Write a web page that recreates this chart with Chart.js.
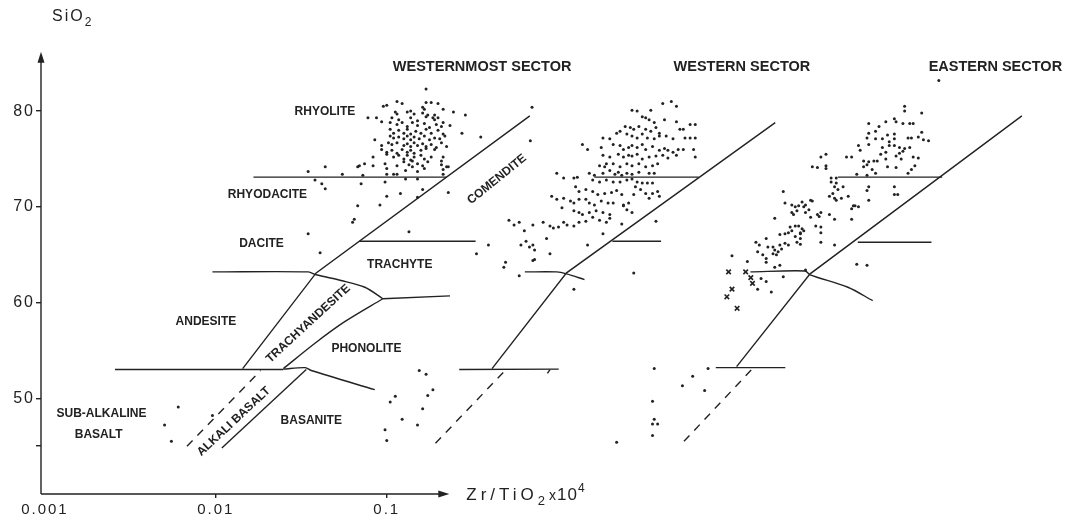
<!DOCTYPE html>
<html>
<head>
<meta charset="utf-8">
<script src="https://cdn.jsdelivr.net/npm/chart.js@4.4.1/dist/chart.umd.min.js"></script>
<style>
html, body { margin: 0; padding: 0; background: #fff; }
canvas { display: block; }
</style>
</head>
<body>
<canvas id="c" width="1076" height="523"></canvas>
<script>
// x values are log10(Zr/TiO2), each sector in its own (unshifted) coordinates
const sectorShift = [0, 1.465, 2.89];   // decades each sector is slid to the right
const xTicks = [-3, -2, -1];
const xTickLabels = ['0.001', '0.01', '0.1'];
const yTicks = [45, 50, 60, 70, 80];

// ---- westernmost sector
const westernmostPts = [
  [-0.77,82.3],
  [-0.94,81.0],[-0.91,80.8],[-0.77,80.9],[-0.74,80.9],[-0.70,80.8],
  [-1.02,80.5],[-1.00,80.6],[-0.79,80.4],[-0.78,80.2],[-0.67,80.2],
  [-0.95,79.9],[-0.94,79.7],[-0.88,79.9],[-0.86,80.0],[-0.84,79.7],[-0.79,79.8],[-0.76,79.6],[-0.72,79.6],[-0.61,79.9],
  [-1.11,79.3],[-1.06,79.3],[-0.97,79.3],[-0.93,79.1],[-0.86,79.3],[-0.82,79.0],[-0.77,79.4],[-0.73,79.3],[-0.72,79.1],[-0.70,79.3],[-0.54,79.6],
  [-1.03,78.9],[-0.98,78.8],[-0.94,78.6],[-0.91,78.8],[-0.88,78.4],[-0.85,78.8],[-0.82,78.5],[-0.78,78.7],[-0.75,78.3],[-0.71,78.6],[-0.68,78.4],[-0.67,78.8],[-0.63,78.5],
  [-0.98,78.1],[-0.96,77.7],[-0.93,78.0],[-0.90,77.7],[-0.88,78.1],[-0.86,77.6],[-0.83,77.9],[-0.80,77.7],[-0.77,78.1],[-0.74,77.7],[-0.70,78.0],[-0.67,77.6],[-0.56,77.7],
  [-1.07,77.0],[-0.98,77.4],[-0.96,77.2],[-0.93,77.3],[-0.90,77.1],[-0.88,77.4],[-0.86,77.0],[-0.84,77.3],[-0.81,77.1],[-0.78,77.4],[-0.75,77.0],[-0.72,77.2],[-0.69,77.1],[-0.66,77.4],[-0.45,77.3],
  [-1.03,76.4],[-0.99,76.7],[-0.97,76.5],[-0.94,76.7],[-0.90,76.4],[-0.88,76.6],[-0.86,76.3],[-0.84,76.7],[-0.82,76.4],[-0.79,76.6],[-0.77,76.3],[-0.74,76.5],[-0.71,76.2],[-0.68,76.7],[-0.65,76.3],
  [-1.03,76.0],[-1.00,75.7],[-0.97,75.9],[-0.94,75.6],[-0.91,76.0],[-0.88,75.7],[-0.86,75.9],[-0.84,75.6],[-0.80,75.9],[-0.77,76.1],[-0.72,76.0],
  [-1.08,75.2],[-1.00,75.5],[-0.96,75.2],[-0.93,75.4],[-0.90,75.0],[-0.88,75.4],[-0.86,74.9],[-0.84,75.2],[-0.80,75.4],[-0.78,75.0],[-0.74,75.2],[-0.68,74.8],[-0.67,75.2],
  [-1.16,74.3],[-1.13,74.5],[-1.08,74.3],[-1.01,74.5],[-0.94,74.3],[-0.90,74.7],[-0.87,74.4],[-0.85,74.8],[-0.82,74.5],[-0.79,74.3],[-0.76,74.7],[-0.68,74.4],[-0.65,74.2],
  [-1.17,74.2],[-1.00,74.0],[-0.89,73.8],[-0.85,74.2],[-0.82,73.7],[-0.78,74.0],[-0.67,73.9],[-0.64,74.2],
  [-1.46,73.7],[-1.36,74.2],[-1.26,73.4],[-1.14,73.3],[-1.00,73.4],[-0.96,73.4],[-0.94,73.4],[-0.89,72.9],[-0.82,72.9],[-0.67,73.4],
  [-1.42,72.8],[-1.38,72.4],[-1.36,71.9],[-1.15,72.4],[-1.01,72.6],
  [-1.00,71.1],[-0.92,71.4],[-0.82,71.0],[-0.79,71.8],[-0.64,71.5],
  [-1.17,70.1],[-1.04,70.2],[-1.20,68.4],[-1.19,68.7],[-1.46,67.2],[-0.87,67.4],[-1.39,65.2],
  [-0.15,80.4],[-0.16,76.9],
  [-0.81,52.9],[-0.77,52.5],[-0.73,50.9],[-0.76,50.3],[-0.95,50.2],[-0.98,49.6],[-0.91,47.8],[-0.82,47.2],[-0.79,48.9],[-1.01,46.7],[-1.00,45.6],
  [-2.22,49.1],[-2.30,47.2],[-2.26,45.5],[-2.02,48.2]
];
const westernmostSolid = [
  [[-1.78,73.1],[-0.65,73.1]],
  [[-1.843,53.1],[-1.413,63.1],[-0.163,79.5]],
  [[-1.16,66.4],[-0.48,66.4]],
  [[-1.023,60.4],[-0.63,60.7]],
  [[-2.59,53.0],[-1.605,53.0]],
  [[-1.965,44.8],[-1.471,53.0]]
];
const westernmostCurved = [
  [[-2.02,63.2],[-1.459,63.2],[-1.413,62.9],[-1.267,62.3],[-1.128,61.6],[-1.023,60.4]],
  [[-1.023,60.4],[-1.246,58.0],[-1.42,55.75],[-1.605,53.1]],
  [[-1.605,53.05],[-1.477,53.2],[-1.442,52.9],[-1.07,50.9]]
];
const westernmostDashed = [[[-2.169,45.0],[-1.738,52.9]]];

// ---- western sector
const westernPts = [
  [-0.85,80.8],[-0.80,81.0],[-0.77,80.5],
  [-1.03,80.1],[-1.00,80.0],[-0.92,80.1],[-0.97,79.4],[-0.95,79.3],[-0.93,79.1],[-0.90,78.8],[-0.84,79.1],[-0.77,78.9],[-0.75,78.1],[-0.73,78.1],[-0.69,78.6],[-0.66,78.6],
  [-1.07,78.4],[-1.04,78.3],[-1.02,78.1],[-0.99,78.4],[-0.95,78.1],[-0.92,77.9],[-0.89,78.3],[-0.87,77.7],
  [-1.12,77.7],[-1.10,77.9],[-1.06,77.6],[-1.03,77.4],[-1.00,77.2],[-0.97,77.6],[-0.94,77.2],[-0.90,77.1],[-0.87,77.4],[-0.83,77.4],[-0.79,77.1],[-0.72,77.2],[-0.69,77.2],[-0.66,77.2],
  [-1.20,77.2],[-1.16,77.1],[-1.21,76.2],[-1.14,76.5],[-1.10,76.4],[-1.08,76.0],[-1.05,76.2],[-1.03,76.4],[-1.00,76.2],[-0.97,76.5],[-0.95,76.0],[-0.91,76.3],[-0.87,75.9],[-0.84,76.1],[-0.82,75.9],[-0.79,75.7],[-0.76,76.0],[-0.73,76.0],[-0.67,76.0],[-0.66,75.2],
  [-1.20,75.4],[-1.16,75.2],[-1.11,75.5],[-1.08,75.2],[-1.05,75.4],[-1.03,75.3],[-1.00,75.5],[-0.97,75.0],[-0.93,75.2],[-0.89,75.3],[-0.85,75.4],[-0.82,75.1],[-0.77,75.4],
  [-1.18,74.5],[-1.14,74.5],[-1.10,74.2],[-1.06,74.5],[-1.03,74.3],[-0.99,74.5],[-0.95,74.2],[-0.91,74.3],[-0.88,74.5],
  [-1.32,76.5],[-1.29,76.0],[-1.22,74.3],[-1.19,74.2],
  [-1.28,73.5],[-1.25,73.3],[-1.20,73.5],[-1.16,73.8],[-1.13,73.4],[-1.11,73.6],[-1.09,73.3],[-1.06,73.5],[-1.03,73.4],[-0.99,73.6],[-0.93,73.5],[-0.90,73.5],
  [-1.47,73.5],[-1.43,73.0],[-1.37,73.0],[-1.35,73.1],[-1.26,72.8],[-1.22,72.6],[-1.18,72.8],[-1.14,72.6],[-1.10,72.6],[-1.06,72.8],[-1.03,72.9],[-1.00,72.6],[-0.97,72.5],[-0.94,72.5],[-0.91,72.5],
  [-1.36,72.1],[-1.34,71.6],[-1.30,71.8],[-1.26,71.6],[-1.23,71.3],[-1.19,71.4],[-1.15,71.5],[-1.12,71.7],[-1.09,71.3],[-1.01,72.1],[-0.98,71.8],[-0.95,71.4],[-0.91,71.4],[-0.88,71.6],[-0.87,71.1],
  [-1.47,70.8],[-1.43,70.9],[-1.39,70.6],[-1.37,70.4],[-1.34,70.8],[-1.30,70.8],[-1.28,70.4],[-1.25,70.2],[-1.21,70.6],[-1.17,70.4],[-1.14,70.4],[-1.08,70.2],[-1.05,70.4],[-1.02,71.3],[-0.93,70.9],
  [-1.50,71.1],[-1.44,69.9],[-1.37,69.6],[-1.34,69.4],[-1.32,69.2],[-1.28,69.4],[-1.24,69.6],[-1.20,69.4],[-1.16,69.2],[-1.08,70.1],[-1.06,69.7],[-1.03,69.4],
  [-1.75,68.6],[-1.72,68.1],[-1.69,68.4],[-1.66,67.5],[-1.61,68.1],[-1.55,68.4],[-1.51,68.0],[-1.49,67.8],[-1.46,67.9],[-1.43,68.4],[-1.41,68.1],[-1.37,68.0],[-1.34,68.4],[-1.30,68.5],[-1.26,68.9],[-1.22,68.6],[-1.18,68.4],[-1.16,68.8],[-1.09,68.2],[-0.89,68.5],[-1.20,67.2],
  [-1.53,66.7],[-1.68,66.0],[-1.65,66.4],[-1.63,65.8],[-1.61,66.0],[-1.60,65.5],[-1.29,66.0],[-1.51,65.1],[-1.60,64.5],
  [-1.77,64.2],[-1.78,63.7],[-1.69,62.8],[-1.37,61.4],[-1.02,63.1],[-1.61,64.4],
  [-1.87,66.0],[-1.94,65.1],
  [-0.90,53.1],[-0.91,49.7],[-0.90,47.8],[-0.91,47.3],[-0.88,47.3],[-0.91,46.1],[-1.12,45.4]
];
const westernSolid = [
  [[-1.25,73.1],[-0.64,73.1]],
  [[-1.849,53.1],[-1.413,63.1],[-0.192,78.8]],
  [[-1.145,66.4],[-0.86,66.4]],
  [[-2.041,53.0],[-1.459,53.05]],
  [[-1.51,53.0],[-1.525,52.6]]
];
const westernCurved = [[[-1.657,63.2],[-1.471,63.2],[-1.413,63.0],[-1.308,62.4]]];
const westernDashed = [[[-2.18,45.3],[-1.762,53.1]]];

// ---- eastern sector
const easternPts = [
  [-0.66,83.2],
  [-0.86,80.5],[-0.86,80.0],[-0.76,79.8],
  [-1.07,78.7],[-0.97,78.9],[-0.92,79.2],[-0.91,78.9],[-0.87,78.7],[-0.83,78.7],[-0.81,78.7],[-1.01,78.4],
  [-1.07,77.7],[-1.03,77.9],[-0.96,77.5],[-0.92,77.6],[-0.76,77.8],
  [-1.08,77.2],[-1.03,77.1],[-0.99,77.1],[-0.95,76.8],[-0.92,77.1],[-0.84,77.2],[-0.82,77.2],[-0.78,77.3],[-0.75,77.0],[-0.72,76.9],
  [-1.13,76.4],[-1.07,76.5],[-0.99,76.2],[-0.95,76.4],[-0.92,76.4],[-0.89,76.2],[-0.86,76.1],[-0.83,76.2],
  [-1.20,75.2],[-1.17,75.2],[-1.12,75.9],[-1.00,75.5],[-0.97,75.7],[-0.91,75.3],[-0.89,75.6],[-0.87,75.8],
  [-1.35,75.2],[-1.32,75.5],[-1.10,74.8],[-1.07,74.7],[-1.04,74.8],[-1.02,74.8],[-0.97,75.0],[-0.88,75.0],[-0.81,75.2],[-0.78,75.1],
  [-1.40,74.2],[-1.37,74.1],[-1.32,74.3],[-1.32,74.0],[-1.10,74.2],[-1.08,74.4],[-1.05,73.9],[-1.03,73.5],[-0.96,74.2],[-0.91,74.1],[-0.82,73.9],[-0.80,74.3],
  [-1.29,73.0],[-1.26,73.0],[-1.14,73.4],[-1.08,73.3],[-0.84,73.5],
  [-1.29,72.6],[-1.26,72.5],[-1.27,72.1],[-1.25,71.8],[-1.28,71.4],[-1.22,72.1],[-1.07,72.1],[-1.08,71.7],[-0.92,72.1],[-0.92,71.3],[-0.90,71.3],
  [-1.57,71.6],[-1.30,71.1],[-1.27,70.9],[-1.26,70.7],[-1.23,70.9],[-1.19,71.1],[-1.16,70.1],[-1.17,69.8],[-1.15,70.1],[-1.13,70.0],[-1.07,70.7],
  [-1.56,70.4],[-1.52,70.2],[-1.50,70.0],[-1.48,70.1],[-1.46,70.5],[-1.44,70.2],[-1.41,70.7],[-1.40,70.6],[-1.42,69.7],[-1.45,70.0],[-1.49,69.6],[-1.52,69.4],
  [-1.62,68.8],[-1.51,69.2],[-1.44,69.4],[-1.41,68.9],[-1.37,69.2],[-1.36,69.0],[-1.35,69.4],[-1.30,69.2],[-1.27,68.7],[-1.17,68.7],
  [-1.53,67.9],[-1.50,68.0],[-1.48,68.0],[-1.46,67.7],[-1.38,68.0],[-1.35,67.9],[-1.35,67.3],[-1.52,67.5],[-1.47,67.3],[-1.45,67.5],
  [-1.59,67.1],[-1.56,67.2],[-1.54,67.3],[-1.50,66.9],[-1.47,66.7],[-1.49,66.3],[-1.47,66.1],[-1.47,67.2],[-1.35,66.3],[-1.27,66.0],
  [-1.73,66.3],[-1.71,66.0],[-1.67,66.7],[-1.66,65.8],[-1.63,65.8],[-1.62,65.5],[-1.60,65.3],[-1.59,66.0],[-1.58,65.6],[-1.56,66.2],[-1.54,66.0],
  [-1.87,64.9],[-1.78,64.3],[-1.72,65.3],[-1.69,65.0],[-1.67,64.6],[-1.63,65.1],[-1.61,65.0],[-1.62,63.7],[-1.59,63.9],[-1.44,63.4],
  [-1.67,64.2],[-1.57,62.7],[-1.70,62.5],[-1.67,62.2],[-1.72,61.4],[-1.64,61.1],
  [-1.14,64.0],[-1.08,63.9],
  [-2.16,51.3],[-2.10,52.3],[-2.03,50.8],[-2.01,53.1]
];
const easternCrosses = [[-1.89,63.2],[-1.79,63.2],[-1.76,62.6],[-1.75,62.0],[-1.87,61.4],[-1.90,60.6],[-1.84,59.4]];
const easternSolid = [
  [[-1.25,73.1],[-0.64,73.1]],
  [[-1.843,53.3],[-1.413,63.0],[-0.174,79.5]],
  [[-1.134,66.3],[-0.703,66.3]],
  [[-1.965,53.2],[-1.558,53.2]]
];
const easternCurved = [[[-1.762,63.2],[-1.442,63.3],[-1.413,62.9],[-1.192,61.6],[-1.047,60.2]]];
const easternDashed = [[[-2.151,45.5],[-1.75,53.1]]];

// field names and titles, placed in plotted (shifted) coordinates
const fieldLabels = [
  ['RHYOLITE', -1.362, 79.95, 0], ['RHYODACITE', -1.698, 71.26, 0], ['DACITE', -1.733, 66.15, 0],
  ['ANDESITE', -2.058, 58.0, 0], ['TRACHYTE', -0.924, 63.93, 0], ['PHONOLITE', -1.119, 55.2, 0],
  ['BASANITE', -1.442, 47.67, 0], ['SUB-ALKALINE', -2.669, 48.4, 0], ['BASALT', -2.686, 46.2, 0],
  ['TRACHYANDESITE', -1.459, 57.8, -42.6], ['ALKALI BASALT', -1.895, 47.57, -43], ['COMENDITE', -0.355, 72.87, -39]
];
const sectorTitles = [['WESTERNMOST SECTOR', -0.442, 84.65], ['WESTERN SECTOR', 1.078, 84.65], ['EASTERN SECTOR', 2.561, 84.6]];
const axisFrom = [-3.023, 40];
const axisTo = [-0.634, 86.2];

const ink = '#222';
const sectors = [
  { pts: westernmostPts, solid: westernmostSolid, curved: westernmostCurved, dashed: westernmostDashed },
  { pts: westernPts, solid: westernSolid, curved: westernCurved, dashed: westernDashed },
  { pts: easternPts, solid: easternSolid, curved: easternCurved, dashed: easternDashed }
];

const datasets = [];
sectors.forEach((s, i) => {
  const sh = sectorShift[i];
  const xy = p => ({ x: p[0] + sh, y: p[1] });
  const addLine = (pts, tension, dash) => datasets.push({
    type: 'line', data: pts.map(xy), showLine: true, borderColor: ink, borderWidth: 1.4,
    pointRadius: 0, fill: false, tension: tension, borderDash: dash, clip: false
  });
  s.solid.forEach(l => addLine(l, 0, []));
  s.curved.forEach(l => addLine(l, 0.3, []));
  s.dashed.forEach(l => addLine(l, 0, [8, 7]));
  datasets.push({ data: s.pts.map(xy), pointRadius: 1.5, pointBackgroundColor: ink, pointBorderWidth: 0, clip: false });
});
datasets.push({
  data: easternCrosses.map(p => ({ x: p[0] + sectorShift[2], y: p[1] })),
  pointStyle: 'crossRot', pointRadius: 3.2, pointBorderColor: ink, pointBorderWidth: 1.6, clip: false
});

const decor = {
  id: 'decor',
  beforeDraw(c) { c.ctx.letterSpacing = '2px'; },
  beforeDatasetsDraw(c) { c.ctx.letterSpacing = '0px'; },
  afterDraw(c) {
    const { ctx } = c;
    const X = c.scales.x, Y = c.scales.y;
    ctx.save();
    ctx.strokeStyle = ink;
    ctx.fillStyle = ink;
    ctx.lineWidth = 1.4;
    const x0 = X.getPixelForValue(axisFrom[0]), y0 = Y.getPixelForValue(axisFrom[1]);
    const xe = X.getPixelForValue(axisTo[0]), ye = Y.getPixelForValue(axisTo[1]);
    ctx.beginPath();
    ctx.moveTo(x0, y0); ctx.lineTo(xe - 6, y0);
    ctx.moveTo(x0, y0); ctx.lineTo(x0, ye + 6);
    ctx.stroke();
    ctx.beginPath(); ctx.moveTo(xe, y0); ctx.lineTo(xe - 11, y0 - 3.5); ctx.lineTo(xe - 11, y0 + 3.5); ctx.closePath(); ctx.fill();
    ctx.beginPath(); ctx.moveTo(x0, ye); ctx.lineTo(x0 - 3.5, ye + 11); ctx.lineTo(x0 + 3.5, ye + 11); ctx.closePath(); ctx.fill();

    ctx.textAlign = 'center';
    ctx.textBaseline = 'middle';
    ctx.font = 'bold 12px "Liberation Sans", Arial, sans-serif';
    fieldLabels.forEach(([t, x, y, a]) => {
      ctx.save();
      ctx.translate(X.getPixelForValue(x), Y.getPixelForValue(y));
      ctx.rotate(a * Math.PI / 180);
      ctx.fillText(t, 0, 0);
      ctx.restore();
    });
    ctx.font = 'bold 14.5px "Liberation Sans", Arial, sans-serif';
    sectorTitles.forEach(([t, x, y]) => ctx.fillText(t, X.getPixelForValue(x), Y.getPixelForValue(y)));

    // axis titles
    ctx.textAlign = 'left';
    ctx.textBaseline = 'alphabetic';
    ctx.letterSpacing = '2px';
    ctx.font = '16px "Liberation Sans", Arial, sans-serif';
    ctx.fillText('SiO', x0 + 11, 21);
    let w = ctx.measureText('SiO').width;
    ctx.font = '12px "Liberation Sans", Arial, sans-serif';
    ctx.fillText('2', x0 + 11 + w, 26);

    ctx.letterSpacing = '4px';
    ctx.font = '17px "Liberation Sans", Arial, sans-serif';
    let px = xe + 17;
    const by = y0 + 6;
    ctx.fillText('Zr/TiO', px, by);
    px += ctx.measureText('Zr/TiO').width;
    ctx.font = '13px "Liberation Sans", Arial, sans-serif';
    ctx.fillText('2', px, by + 5);
    px += ctx.measureText('2').width;
    ctx.letterSpacing = '1px';
    ctx.font = '14px "Liberation Sans", Arial, sans-serif';
    ctx.fillText('x', px, by);
    px += ctx.measureText('x').width;
    ctx.font = '17px "Liberation Sans", Arial, sans-serif';
    ctx.fillText('10', px, by);
    px += ctx.measureText('10').width;
    ctx.font = '12px "Liberation Sans", Arial, sans-serif';
    ctx.fillText('4', px, by - 8);
    ctx.restore();
  }
};

new Chart(document.getElementById('c'), {
  type: 'scatter',
  data: { datasets },
  options: {
    responsive: false,
    animation: false,
    events: [],
    layout: { padding: 0 },
    plugins: { legend: { display: false }, tooltip: { enabled: false } },
    scales: {
      x: {
        type: 'linear', min: axisFrom[0], max: 3.0,
        afterFit(s) { s.height = 29; },
        afterBuildTicks(s) { s.ticks = xTicks.map(v => ({ value: v })); },
        border: { display: false },
        grid: { drawOnChartArea: false, tickLength: 4, lineWidth: 1.4,
                color: ctx => (ctx.tick && ctx.tick.value === -3) ? 'rgba(0,0,0,0)' : ink },
        ticks: { autoSkip: false, maxRotation: 0, padding: 3, color: ink,
                 font: { size: 15, family: '"Liberation Sans", Arial, sans-serif' },
                 callback: v => xTickLabels[xTicks.indexOf(v)] }
      },
      y: {
        type: 'linear', min: 40, max: 90.5,
        afterFit(s) { s.width = 41; },
        afterBuildTicks(s) { s.ticks = yTicks.map(v => ({ value: v })); },
        border: { display: false },
        grid: { drawOnChartArea: false, tickLength: 5, lineWidth: 1.4, color: ink },
        ticks: { padding: 1, color: ink,
                 font: { size: 16, family: '"Liberation Sans", Arial, sans-serif' },
                 callback: v => v === 45 ? '' : String(v) }
      }
    }
  },
  plugins: [decor]
});
</script>
</body>
</html>
